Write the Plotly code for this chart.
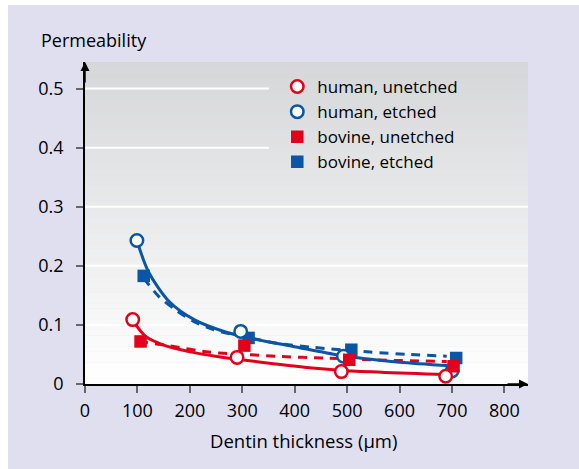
import plotly.graph_objects as go

# ---- data ----
human_unetched_x = [91, 290, 489, 688]
human_unetched_y = [0.109, 0.045, 0.021, 0.013]
human_etched_x = [99, 297, 493, 700]
human_etched_y = [0.243, 0.089, 0.047, 0.022]
bovine_unetched_x = [106, 304, 504, 703]
bovine_unetched_y = [0.072, 0.065, 0.041, 0.030]
bovine_etched_x = [112, 312, 508, 708]
bovine_etched_y = [0.183, 0.078, 0.058, 0.044]

# fitted trend curves
fit_hu_x = [91, 115, 153, 204, 249, 290, 363, 433, 490, 690]
fit_hu_y = [0.108, 0.081, 0.065, 0.054, 0.047, 0.042, 0.034, 0.027, 0.023, 0.016]
fit_he_x = [99, 121, 160, 210, 268, 318, 395, 483, 531, 600, 696]
fit_he_y = [0.243, 0.190, 0.140, 0.108, 0.088, 0.077, 0.064, 0.049, 0.043, 0.037, 0.031]
fit_bu_x = [103, 160, 236, 293, 369, 458, 544, 690]
fit_bu_y = [0.072, 0.0648, 0.054, 0.0508, 0.0467, 0.044, 0.041, 0.038]
fit_be_x = [112, 141, 172, 207, 245, 315, 366, 436, 544, 620, 690]
fit_be_y = [0.179, 0.148, 0.126, 0.106, 0.092, 0.078, 0.069, 0.062, 0.054, 0.050, 0.047]

x_ticks = [0, 100, 200, 300, 400, 500, 600, 700, 800]
y_ticks = [0, 0.1, 0.2, 0.3, 0.4, 0.5]
y_tick_text = ["0", "0.1", "0.2", "0.3", "0.4", "0.5"]
grid_full = [0.1, 0.2, 0.3]
grid_short = [0.4, 0.5]

RED = "#e2001a"
BLUE = "#0a55a5"
LAV = "#dfdff0"
X_MAX = 845
Y_MAX = 0.545
FONT = "Open Sans"
LW = 3
DASH = "9px,7px"

# page offsets of the figure (body margin), plot area in page pixels
OFF_X, OFF_Y = 8, 5
FIG_W, FIG_H = 579 - OFF_X, 469 - OFF_Y
PL, PT, PW, PH = 84.5, 62.0, 443.5, 322.3


def px_x(v):
    return (v - PL) / PW


def px_y(v):
    return (PT + PH - v) / PH


fig = go.Figure()

# curves
fig.add_trace(go.Scatter(x=fit_hu_x, y=fit_hu_y, mode="lines", line=dict(color=RED, width=LW, shape="spline", smoothing=0.8), showlegend=False, hoverinfo="skip"))
fig.add_trace(go.Scatter(x=fit_bu_x, y=fit_bu_y, mode="lines", line=dict(color=RED, width=LW, dash=DASH, shape="spline", smoothing=0.8), showlegend=False, hoverinfo="skip"))
fig.add_trace(go.Scatter(x=fit_he_x, y=fit_he_y, mode="lines", line=dict(color=BLUE, width=LW, shape="spline", smoothing=0.8), showlegend=False, hoverinfo="skip"))
fig.add_trace(go.Scatter(x=fit_be_x, y=fit_be_y, mode="lines", line=dict(color=BLUE, width=LW, dash=DASH, shape="spline", smoothing=0.8), showlegend=False, hoverinfo="skip"))

# markers
fig.add_trace(go.Scatter(x=bovine_etched_x, y=bovine_etched_y, mode="markers", name="bovine, etched", legendrank=4,
                         marker=dict(symbol="square", size=12.5, color=BLUE, line=dict(width=0))))
fig.add_trace(go.Scatter(x=human_etched_x, y=human_etched_y, mode="markers", name="human, etched", legendrank=2,
                         marker=dict(symbol="circle", size=12.5, color="white", line=dict(color=BLUE, width=2.5))))
fig.add_trace(go.Scatter(x=bovine_unetched_x, y=bovine_unetched_y, mode="markers", name="bovine, unetched", legendrank=3,
                         marker=dict(symbol="square", size=12.5, color=RED, line=dict(width=0))))
fig.add_trace(go.Scatter(x=human_unetched_x, y=human_unetched_y, mode="markers", name="human, unetched", legendrank=1,
                         marker=dict(symbol="circle", size=12.5, color="white", line=dict(color=RED, width=2.5))))

shapes = []
# gradient background of the plot area
n = 60
top = (214, 215, 217)
for i in range(n):
    t = i / (n - 1)
    c = tuple(int(round(255 + (tc - 255) * t)) for tc in top)
    shapes.append(dict(type="rect", xref="x", yref="y", x0=0, x1=X_MAX,
                       y0=Y_MAX * i / n, y1=Y_MAX * (i + 1) / n + 0.0005,
                       fillcolor="rgb(%d,%d,%d)" % c, line=dict(width=0), layer="below"))
for g in grid_full:
    shapes.append(dict(type="line", xref="x", yref="y", x0=0, x1=X_MAX, y0=g, y1=g,
                       line=dict(color="white", width=2), layer="below"))
for g in grid_short:
    shapes.append(dict(type="line", xref="x", yref="y", x0=0, x1=351, y0=g, y1=g,
                       line=dict(color="white", width=2), layer="below"))

annotations = [
    dict(text="Permeability", xref="paper", yref="paper", x=px_x(38), y=px_y(40),
         xanchor="left", yanchor="middle", showarrow=False, font=dict(size=18, color="black", family=FONT)),
    dict(text="Dentin thickness (\u00b5m)", xref="paper", yref="paper", x=px_x(303), y=px_y(441),
         xanchor="center", yanchor="middle", showarrow=False, font=dict(size=18.5, color="black", family=FONT)),
    # axis arrows
    dict(x=X_MAX, y=0, xref="x", yref="y", ax=-22, ay=0, axref="pixel", ayref="pixel", text="",
         showarrow=True, arrowhead=2, arrowsize=1.2, arrowwidth=1.5, arrowcolor="black"),
    dict(x=0, y=Y_MAX, xref="x", yref="y", ax=0, ay=22, axref="pixel", ayref="pixel", text="",
         showarrow=True, arrowhead=2, arrowsize=1.2, arrowwidth=1.5, arrowcolor="black"),
]

fig.update_layout(
    width=FIG_W, height=FIG_H,
    margin=dict(l=PL - OFF_X, r=FIG_W - (PL - OFF_X) - PW, t=PT - OFF_Y, b=FIG_H - (PT - OFF_Y) - PH),
    paper_bgcolor=LAV, plot_bgcolor="rgba(0,0,0,0)",
    font=dict(family=FONT, size=18, color="black"),
    shapes=shapes, annotations=annotations,
    legend=dict(x=px_x(277), y=px_y(69), xanchor="left", yanchor="top", bgcolor="rgba(0,0,0,0)",
                font=dict(size=17, family=FONT), itemwidth=30),
    xaxis=dict(range=[0, X_MAX], tickvals=x_ticks, ticks="outside", ticklen=7, tickwidth=1.5, tickcolor="#666",
               showgrid=False, zeroline=False, showline=True, linecolor="black", linewidth=1.5,
               tickfont=dict(size=18), ticklabelstandoff=3, fixedrange=True),
    yaxis=dict(range=[0, Y_MAX], tickvals=y_ticks, ticktext=y_tick_text,
               ticks="outside", ticklen=7, tickwidth=1.5, tickcolor="#666",
               showgrid=False, zeroline=False, showline=True, linecolor="black", linewidth=1.5,
               tickfont=dict(size=18), ticklabelstandoff=9, fixedrange=True),
)

fig.write_html("out.html", post_script="document.body.style.margin='%dpx 0 0 %dpx';" % (OFF_Y, OFF_X))
